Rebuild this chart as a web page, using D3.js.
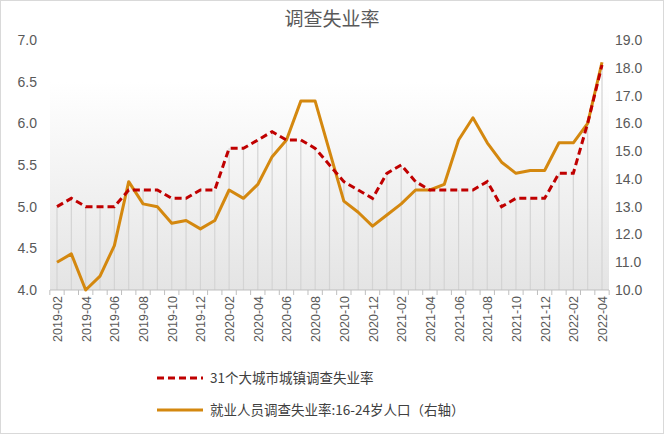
<!DOCTYPE html><html><head><meta charset="utf-8"><script src="https://cdn.jsdelivr.net/npm/d3@7"></script>
<style>body{margin:0;background:#fff}svg{font-family:"Noto Sans CJK SC","Liberation Sans",sans-serif}</style></head><body><svg id="c" width="664" height="434"></svg><script>
const months=[];for(let y=2019;y<=2022;y++)for(let m=1;m<=12;m++){if((y==2019&&m<2)||(y==2022&&m>4))continue;months.push(y+"-"+String(m).padStart(2,"0"));}
const cityRate=[5.0,5.1,5.0,5.0,5.0,5.2,5.2,5.2,5.1,5.1,5.2,
5.2,5.7,5.7,5.8,5.9,5.8,5.8,5.7,5.5,5.3,5.2,5.1,
5.4,5.5,5.3,5.2,5.2,5.2,5.2,5.3,5.0,5.1,5.1,5.1,
5.4,5.4,6.0,6.7];
const youthRate=[11.0,11.3,10.0,10.5,11.6,13.9,13.1,13.0,12.4,12.5,12.2,
12.5,13.6,13.3,13.8,14.8,15.4,16.8,16.8,15.0,13.2,12.8,12.3,
12.7,13.1,13.6,13.6,13.8,15.4,16.2,15.3,14.6,14.2,14.3,14.3,
15.3,15.3,16.0,18.2];
const leftTicks=[4.0,4.5,5.0,5.5,6.0,6.5,7.0];
const rightTicks=[10,11,12,13,14,15,16,17,18,19];
const svg=d3.select("#c");
const L=50,R=609,T=40,B=290;
const x=d3.scalePoint().domain(months).range([57,602]);
const yL=d3.scaleLinear().domain([4,7]).range([B,T]);
const yR=d3.scaleLinear().domain([10,19]).range([B,T]);
svg.append("rect").attr("x",0.5).attr("y",0.5).attr("width",663).attr("height",433).attr("fill","none").attr("stroke","#d9d9d9");
const g=svg.append("defs").append("linearGradient").attr("id","gr").attr("x1",0).attr("y1",0).attr("x2",0).attr("y2",1);
g.append("stop").attr("offset","0").attr("stop-color","#fff");
g.append("stop").attr("offset","1").attr("stop-color","#e4e4e4");
svg.append("rect").attr("x",L).attr("y",yL(6.5)).attr("width",R-L).attr("height",B-yL(6.5)).attr("fill","url(#gr)");
svg.append("g").selectAll("line").data(cityRate).join("line").attr("x1",(d,i)=>x(months[i])).attr("x2",(d,i)=>x(months[i])).attr("y1",B).attr("y2",d=>yL(d)).attr("stroke","#d4d4d4").attr("stroke-width",1.2);
svg.append("line").attr("x1",L).attr("x2",R).attr("y1",B).attr("y2",B).attr("stroke","#bfbfbf");
const st=x.step();
svg.append("g").selectAll("line").data(d3.range(months.length+1)).join("line").attr("x1",i=>57+(i-0.5)*st).attr("x2",i=>57+(i-0.5)*st).attr("y1",B).attr("y2",B+5).attr("stroke","#bfbfbf");
svg.append("g").selectAll("text").data(leftTicks).join("text").attr("x",37).attr("y",d=>yL(d)+5).attr("text-anchor","end").attr("font-size",14).attr("fill","#595959").attr("font-family","Liberation Sans").text(d=>d.toFixed(1));
svg.append("g").selectAll("text").data(rightTicks).join("text").attr("x",615).attr("y",d=>yR(d)+5).attr("font-size",14).attr("fill","#595959").attr("font-family","Liberation Sans").text(d=>d.toFixed(1));
svg.append("g").selectAll("text").data(months.filter((m,i)=>i%2==0)).join("text").attr("transform",d=>`translate(${x(d)+5},${B+6}) rotate(-90)`).attr("text-anchor","end").attr("font-size",12.5).attr("fill","#595959").attr("font-family","Liberation Sans").text(d=>d);
svg.append("path").datum(youthRate).attr("fill","none").attr("stroke","#d4880f").attr("stroke-width",3).attr("stroke-linejoin","round").attr("d",d3.line().x((d,i)=>x(months[i])).y(d=>yR(d)));
svg.append("path").datum(cityRate).attr("fill","none").attr("stroke","#c00000").attr("stroke-width",3).attr("stroke-dasharray","7,4").attr("d",d3.line().x((d,i)=>x(months[i])).y(d=>yL(d)));
svg.append("text").attr("x",332).attr("y",26).attr("text-anchor","middle").attr("font-size",19).attr("fill","#595959").text("调查失业率");
svg.append("line").attr("x1",157).attr("x2",203).attr("y1",378).attr("y2",378).attr("stroke","#c00000").attr("stroke-width",3).attr("stroke-dasharray","7,4");
svg.append("text").attr("x",210).attr("y",383).attr("font-size",13.5).attr("fill","#404040").text("31个大城市城镇调查失业率");
svg.append("line").attr("x1",157).attr("x2",203).attr("y1",410).attr("y2",410).attr("stroke","#d4880f").attr("stroke-width",3);
svg.append("text").attr("x",210).attr("y",415).attr("font-size",13.5).attr("fill","#404040").text("就业人员调查失业率:16-24岁人口（右轴）");
</script></body></html>
